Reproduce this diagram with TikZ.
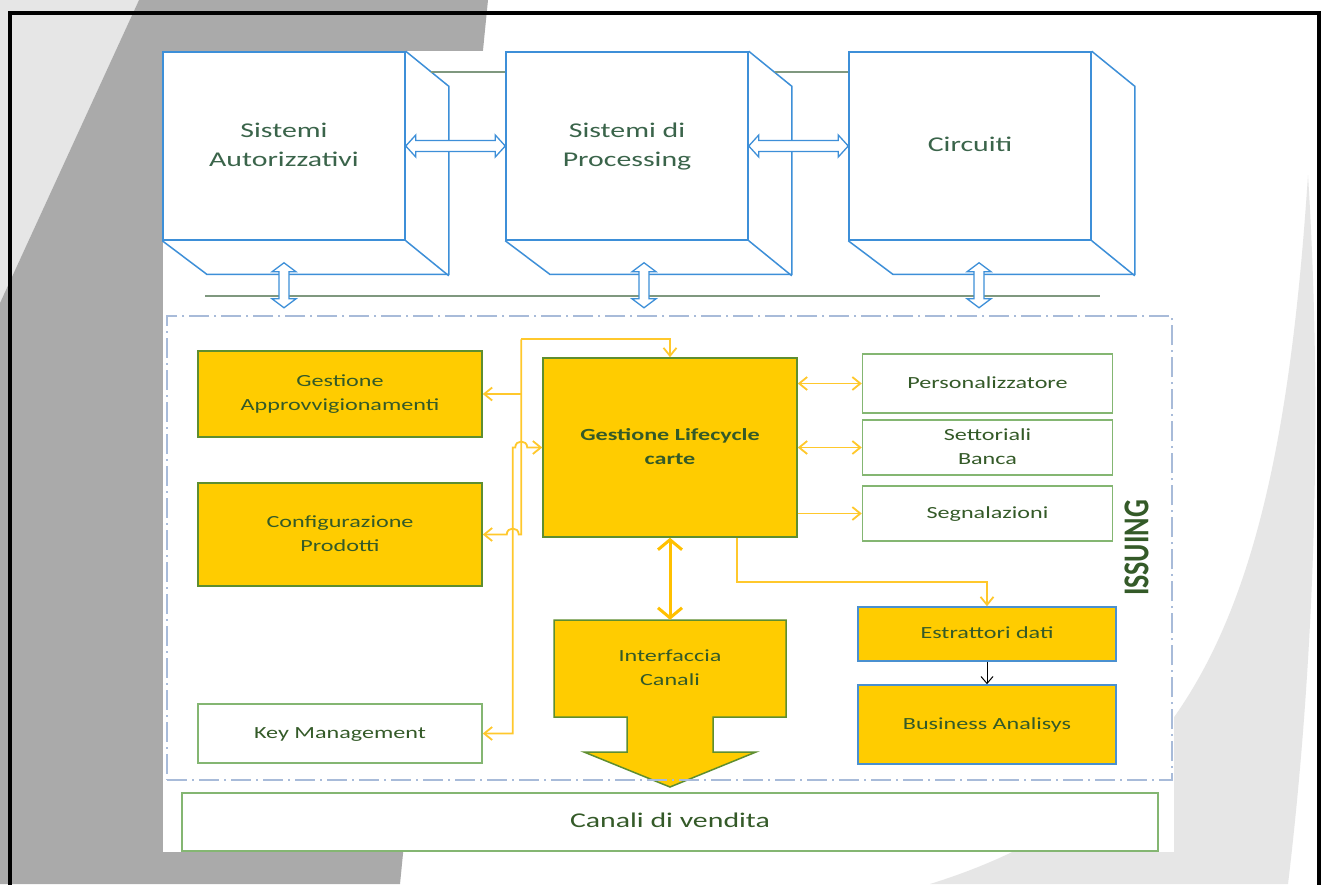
\documentclass[tikz,border=0pt]{standalone}
\usepackage{fontspec}
\setmainfont{Carlito}
\usetikzlibrary{arrows.meta,calc}
\definecolor{bgdark}{HTML}{AAAAAA}
\definecolor{bglight}{HTML}{E6E6E6}
\definecolor{cubeblue}{HTML}{3D8FD8}
\definecolor{busgreen}{HTML}{7F987F}
\definecolor{txtgreen}{HTML}{345A28}
\definecolor{cubetxt}{HTML}{3A644A}
\definecolor{yfill}{HTML}{FFCC00}
\definecolor{yborder}{HTML}{5E8E30}
\definecolor{wborder}{HTML}{84B672}
\definecolor{yline}{HTML}{FFC82C}
\definecolor{ythickc}{HTML}{FFC000}
\definecolor{dashblue}{HTML}{A8BBD9}
\definecolor{eborder}{HTML}{4A90D0}
\newcommand\stx[1]{\scalebox{1.42}[1]{\begin{tabular}{@{}c@{}}#1\end{tabular}}}
\newcommand\hollowH[2]{\draw[hollow] (#1) -- ($(#1)+(10,-11)$) -- ($(#1)+(10,-5.5)$) -- ($(#2)+(-10,-5.5)$) -- ($(#2)+(-10,-11)$) -- (#2) -- ($(#2)+(-10,11)$) -- ($(#2)+(-10,5.5)$) -- ($(#1)+(10,5.5)$) -- ($(#1)+(10,11)$) -- cycle;}
\newcommand\hollowV[2]{\draw[hollow] (#1) -- ($(#1)+(12,9)$) -- ($(#1)+(5,9)$) -- ($(#2)+(5,-9)$) -- ($(#2)+(12,-9)$) -- (#2) -- ($(#2)+(-12,-9)$) -- ($(#2)+(-5,-9)$) -- ($(#1)+(-5,9)$) -- ($(#1)+(-12,9)$) -- cycle;}
\begin{document}
\begin{tikzpicture}[x=1pt,y=-1pt,
  cubeface/.style={draw=cubeblue, line width=1.5pt, fill=white, minimum width=242pt, minimum height=188pt, inner sep=0pt, text=cubetxt, font=\fontsize{21}{29}\selectfont},
  cubeedge/.style={draw=cubeblue, line width=1.5pt, line join=miter},
  bus/.style={draw=busgreen, line width=2pt},
  hollow/.style={draw=cubeblue, line width=1.3pt, fill=white, line join=miter},
  boxtext/.style={inner sep=0pt, text=txtgreen, font=\fontsize{17}{24}\selectfont},
  ybox/.style={boxtext, draw=yborder, line width=1.5pt, fill=yfill},
  wbox/.style={boxtext, draw=wborder, line width=1.5pt, fill=white},
  ebox/.style={boxtext, draw=eborder, line width=1.5pt, fill=yfill},
  ylink/.style={draw=yline, line width=1.8pt},
  ythick/.style={draw=ythickc, line width=3pt},
  ybarb/.tip={Straight Barb[length=8pt,width=13pt]},
  ybig/.tip={Straight Barb[length=10pt,width=24pt]},
  issuingframe/.style={draw=dashblue, line width=2pt, dash pattern=on 20pt off 5pt on 2pt off 5pt, minimum width=1005pt, minimum height=464pt, inner sep=0pt}
]
\useasboundingbox (0,0) rectangle (1327,884);
\clip (0,0) rectangle (1327,884);
% background
\fill[white] (0,0) rectangle (1327,884);
\fill[bglight] (0,0) -- (139,0) -- (0,303) -- cycle;
\fill[bgdark] (139,0) -- (488,0) -- (400,884) -- (0,884) -- (0,303) -- cycle;
\fill[bglight] (1308,175) .. controls (1325,450) and (1310,700) .. (1288,884) -- (930,884) .. controls (1200,800) and (1280,600) .. (1308,175) -- cycle;
\draw[line width=4pt, black] (9.5,890) -- (9.5,12.5) -- (1319,12.5) -- (1319,890);
\fill[white] (163,51) rectangle (1174,852);

% cubes
\node[cubeface] (c1) at (284,146) {\stx{Sistemi\\Autorizzativi}};
\node[cubeface] (c2) at (627,146) {\stx{Sistemi di\\Processing}};
\node[cubeface] (c3) at (970,146) {\stx{Circuiti}};
\foreach \c in {c1,c2,c3}{
  \draw[cubeedge] (\c.north east) -- ++(43,35) -- ++(0,188) -- ++(-242,0) -- (\c.south west);
  \draw[cubeedge] (\c.south east) -- ++(43,35);
}
\draw[bus] ($(c1.north east)+(25,21)$) -- ($(c2.north west)+(0,21)$);
\draw[bus] ($(c2.north east)+(26,21)$) -- ($(c3.north west)+(0,21)$);
\draw[bus] ($(c1.south west)+(43,55)$) -- ($(c3.south east)+(8,55)$);
\hollowH{c1.east}{c2.west}
\hollowH{c2.east}{c3.west}
\coordinate (v1t) at ($(c1.south)+(0,22)$);
\coordinate (v1b) at ($(c1.south)+(0,67)$);
\coordinate (v2t) at ($(c2.south)+(17,22)$);
\coordinate (v2b) at ($(c2.south)+(17,67)$);
\coordinate (v3t) at ($(c3.south)+(9,22)$);
\coordinate (v3b) at ($(c3.south)+(9,67)$);
\hollowV{v1t}{v1b}
\hollowV{v2t}{v2b}
\hollowV{v3t}{v3b}

% issuing boxes
\node[ybox, minimum width=284pt, minimum height=86pt] (ga) at (340,394) {\stx{Gestione\\Approvvigionamenti}};
\node[ybox, minimum width=284pt, minimum height=103pt] (cp) at (340,534.5) {\stx{Configurazione\\Prodotti}};
\node[wbox, minimum width=284pt, minimum height=59pt] (km) at (340,733.5) {\stx{Key Management}};
\node[ybox, minimum width=254pt, minimum height=179pt, font=\fontsize{17}{24}\selectfont\bfseries] (lc) at (670,447.5) {\stx{Gestione Lifecycle\\carte}};
\node[wbox, minimum width=250pt, minimum height=59pt] (pe) at (987.5,383.5) {\stx{Personalizzatore}};
\node[wbox, minimum width=250pt, minimum height=55pt] (sb) at (987.5,447.5) {\stx{Settoriali\\Banca}};
\node[wbox, minimum width=250pt, minimum height=55pt] (sg) at (987.5,513.5) {\stx{Segnalazioni}};
\node[ebox, minimum width=258pt, minimum height=54pt] (ed) at (987,634) {\stx{Estrattori dati}};
\node[ebox, minimum width=258pt, minimum height=79pt] (ba) at (987,724.5) {\stx{Business Analisys}};

\coordinate (icc) at (670,668.5);
\draw[draw=yborder, line width=1.5pt, fill=yfill, line join=miter]
  ($(icc)+(-116,-48.5)$) -- ($(icc)+(116,-48.5)$) -- ($(icc)+(116,48.5)$) -- ($(icc)+(43,48.5)$) -- ($(icc)+(43,83.5)$) -- ($(icc)+(86,83.5)$) -- ($(icc)+(0,118.5)$) -- ($(icc)+(-86,83.5)$) -- ($(icc)+(-43,83.5)$) -- ($(icc)+(-43,48.5)$) -- ($(icc)+(-116,48.5)$) -- cycle;
\node[boxtext, minimum width=232pt, minimum height=97pt] (ic) at (icc) {\stx{Interfaccia\\Canali}};

\node[issuingframe] (issuing) at (669.5,548) {};
\node[rotate=90, inner sep=0pt, text=txtgreen, font=\fontsize{28}{30}\selectfont\bfseries] (issuingtxt) at (1136.5,548) {\scalebox{1}[1.3]{ISSUING}};

\node[wbox, minimum width=976pt, minimum height=58pt, font=\fontsize{21}{26}\selectfont] (cv) at (670,822) {\stx{Canali di vendita}};

% yellow connectors
\coordinate (ja) at ($(lc.north west)+(-21,-18)$);
\coordinate (jb) at ($(km.east)+(30,0)$);
\draw[ylink,-ybarb] (ja) -| (lc.north);
\draw[ylink,-ybarb] (ja |- ga.east) -- (ga.east);
\draw[ylink,-ybarb] (ja) -- (ja |- cp.east) -- ($(jb |- cp.east)+(6,0)$)
  .. controls ($(jb |- cp.east)+(6,-8)$) and ($(jb |- cp.east)+(-6,-8)$) .. ($(jb |- cp.east)+(-6,0)$) -- (cp.east);
\draw[ylink,ybarb-ybarb] (km.east) -- (jb) -- (jb |- lc.west) -- ($(ja |- lc.west)+(-6,0)$)
  .. controls ($(ja |- lc.west)+(-6,-8)$) and ($(ja |- lc.west)+(6,-8)$) .. ($(ja |- lc.west)+(6,0)$) -- (lc.west);
\draw[ylink,ybarb-ybarb] (lc.east |- pe.west) -- (pe.west);
\draw[ylink,ybarb-ybarb] (lc.east |- sb.west) -- (sb.west);
\draw[ylink,-ybarb] (lc.east |- sg.west) -- (sg.west);
\draw[ylink,-ybarb] ($(lc.south west)+(195,0)$) -- ++(0,44) -| (ed.north);
\draw[black, line width=1pt, -{Straight Barb[length=7pt,width=12pt]}] (ed.south) -- (ba.north);
\draw[ythick, ybig-ybig] (lc.south) -- (ic.north);
\end{tikzpicture}
\end{document}
